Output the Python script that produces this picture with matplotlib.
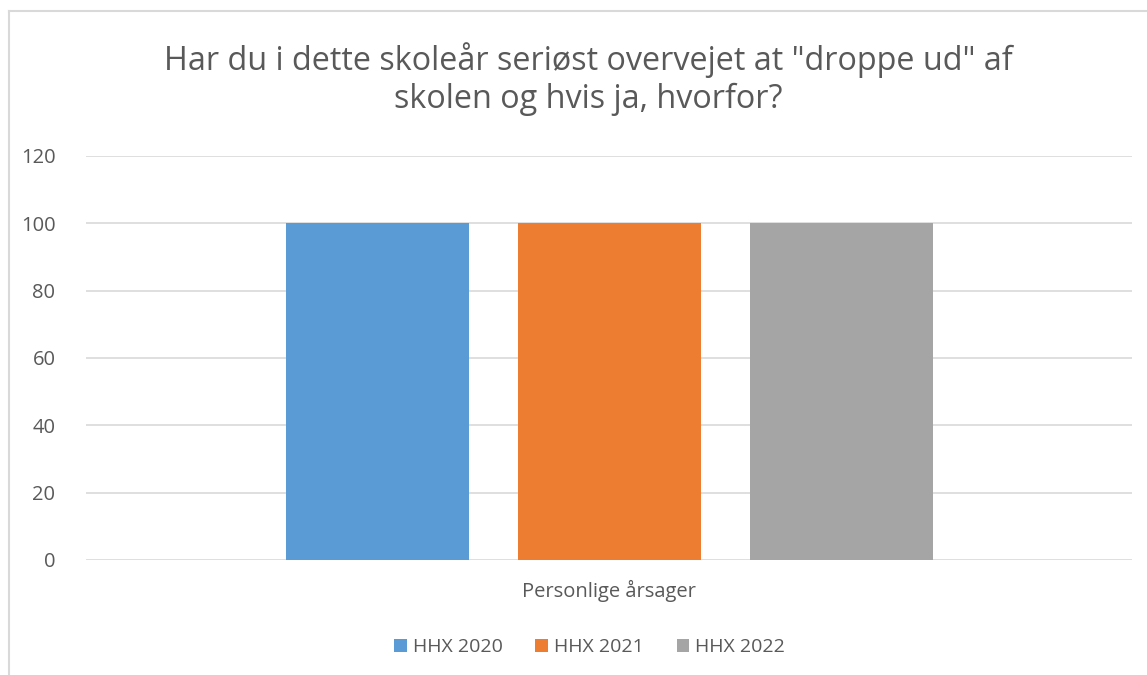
import matplotlib.pyplot as plt
import numpy as np

categories = ["Personlige årsager"]
series = ["HHX 2020", "HHX 2021", "HHX 2022"]
values = [[100], [100], [100]]
colors = ["#5b9bd5", "#ed7d31", "#a5a5a5"]
yticks = [0, 20, 40, 60, 80, 100, 120]

plt.rcParams['font.family'] = ['Open Sans', 'DejaVu Sans']
txt = "#595959"

fig = plt.figure(figsize=(11.47, 6.75), dpi=100)
ax = fig.add_axes([0.075, 0.1704, 0.912, 0.5985])

x = np.arange(len(categories))
w = 0.175
step = 0.2218
for i, (name, vals) in enumerate(zip(series, values)):
    ax.bar(x + (i - 1) * step, vals, w, color=colors[i], label=name, zorder=3)

ax.set_xlim(-0.5, 0.5)
ax.set_ylim(0, 120)
ax.set_yticks(yticks)
ax.set_yticklabels([str(t) for t in yticks], fontsize=14.5, color=txt)
ax.set_xticks(x)
ax.set_xticklabels(categories, fontsize=14.5, color=txt)
ax.tick_params(axis='y', length=0, pad=22)
ax.tick_params(axis='x', length=0, pad=14)
ax.grid(axis='y', color='#d9d9d9', linewidth=1.2, zorder=0)
for s in ax.spines.values():
    s.set_visible(False)

fig.text(0.513, 0.883, 'Har du i dette skoleår seriøst overvejet at "droppe ud" af\nskolen og hvis ja, hvorfor?',
         ha='center', va='center', fontsize=23.3, color=txt, linespacing=1.22)

fig.legend(loc='center', bbox_to_anchor=(0.514, 0.041), ncol=3, frameon=False,
           fontsize=14, labelcolor=txt, handlelength=0.65, handleheight=0.65,
           handletextpad=0.3, columnspacing=1.7)

# chart border (left and top visible)
fig.add_artist(plt.Line2D([0.008, 0.008], [0, 0.983], color='#d9d9d9', lw=1.5))
fig.add_artist(plt.Line2D([0.008, 1.0], [0.983, 0.983], color='#d9d9d9', lw=1.5))

fig.savefig('out.png', dpi=100)
